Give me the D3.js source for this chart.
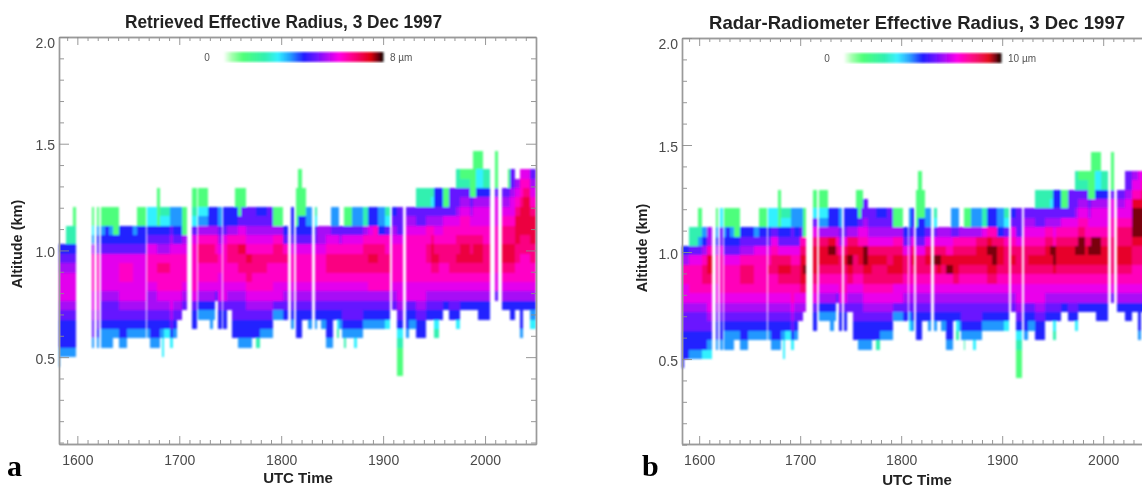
<!DOCTYPE html>
<html>
<head>
<meta charset="utf-8">
<script src="https://cdn.jsdelivr.net/npm/d3@7"></script>
<style>
	html, body { margin: 0; padding: 0; background: #fff; overflow: hidden; }
	svg { display: block; }
	text { font-family: "Liberation Sans", Arial, sans-serif; }
</style>
</head>
<body>
<script>
// Create Constant values
const w = 1142;
const h = 487;

// Altitude gates: lower edge of each gate in km, lowest first
const gateBottoms = [0.412, 0.456, 0.5, 0.544, 0.588, 0.632, 0.676, 0.72, 0.764, 0.808, 0.852, 0.896, 0.94, 0.984,
	1.028, 1.072, 1.116, 1.16, 1.204, 1.248, 1.292, 1.336, 1.38, 1.424];
const gateHeight = 0.044;

// Effective radius (um) of each code used in the columns below (hex digit = index)
const levelsA = [1.04, 2.08, 2.72, 3.36, 4, 4.6, 5.1, 5.55, 6.0, 6.5, 7.0, 7.7];
const levelsB = [1.3, 2.6, 3.4, 4.2, 5, 5.8, 6.4, 7.0, 7.6, 8.3, 8.95, 9.6];

// Columns: [start time, codes per gate from the lowest gate up, "." = no cloud]
const columnsA = [
	[1582, ".3344456777654"], [1583, "..344456777654"], [1589, "..34445677765411"], [1596, "..3444567776541100"],
	[1598.5, ""], [1614.5, "...355677888863200"], [1616, ""], [1619, "...345677888854300"], [1621.5, ""],
	[1623, "...334556777754300"], [1627, "...334556777754400"], [1631, "...334556777754300"],
	[1634.6, "....34556777754000"], [1640.5, "...3445677887544"], [1648.6, "....345677887544"],
	[1654.5, "....345677777543"], [1659, "....34567777754400"], [1667, ""], [1668.5, "....34566788875422"],
	[1671, "...344566788875422"], [1678, "...34456788986540000"], [1681, "....34567889865421"],
	[1683, "..2234567889865421"], [1685, "....24567889865421"], [1691, "...245677888876533"],
	[1694, "....34567888875433"], [1697.6, "......567888875433"], [1702.6, ".......56788876000"],
	[1707.5, ""], [1712.5, ".....445788888752100"], [1717, ""], [1718.5, "......34678899863200"],
	[1728, "......346788998644"], [1730, ".....3346788998644"], [1733, "......346788998644"],
	[1735, "........5788988644"], [1738, ".....4457778876533"], [1741.5, ""], [1743, ".....4457788887544"],
	[1746.6, ".......56788998644"], [1752, "....44556788998644"], [1755, "....4455678899864400"],
	[1757.5, "...3445567899a875000"], [1760.5, "...3445567899a875500"], [1765.5, "...344567899a87655"],
	[1771, "....44567889987655"], [1775, "...144567889987654"], [1779, "....34567889987654"],
	[1786, "....34567888987655"], [1792, "......357788998600"], [1802, "......4567889854"], [1806.7, ""],
	[1809.4, ".....3456788875444"], [1812.3, ""], [1814.3, "....4445678887540000"],
	[1816.6, "....444567888754400000"], [1820.5, "......45678887544000"], [1824, "......456788875433"],
	[1826.4, ".....3456788875433"], [1830, ""], [1832.9, ".....3456788875421"], [1835.2, "......4567888766"],
	[1839.4, ".....34567888766"], [1844.3, "...3444567899876"], [1849, "...344456789987533"],
	[1851, "......456789987533"], [1854.4, "....12456789987533"], [1857, ".....34567899865"],
	[1859.3, "....345567899875"], [1862, "...134556789987500"], [1863.5, "....34556789987500"],
	[1869, "....34556789987533"], [1871, "...234556789987533"], [1874.4, "....34556789987533"],
	[1880.3, ".....3456789998611"], [1885.3, ".....3456889a98744"], [1890, ".....3456889a98844"],
	[1895, ".....3456889998433"], [1901.5, ".....2456889988521"], [1906.8, ""], [1909, ".......56788887654"],
	[1913.4, "000124567788887555"], [1919.5, ""], [1922, "....34457788888765"], [1925.5, ".....3457788888765"],
	[1932, "....4456778888875511"], [1942.3, "......45678899886511"], [1947, "......456789aa986521"],
	[1950, "....12456789a9876544"], [1955, "......45678899876544"], [1958.6, ".......4678899887500"],
	[1965, "......45678999887555"], [1971.7, ".....2456789a998765511"], [1975, ".......46789aa98876510"],
	[1985, ".......46789a998765000"], [1988, ".......46789aa9877600000"], [1991.5, ".......46789aa9877642200"],
	[1993, "......446789aa9877642200"], [1998, "......4467899988776411"], [2005, ""],
	[2009.3, "........5778888877750000"], [2012.6, ""], [2016.5, ".......46789aa998765"],
	[2022.5, ".......46789aa99876500"], [2024, "......446789aa99877655"], [2029, ".......4678899aaa9876"],
	[2034, "....34446788899aaa9887"], [2037, ".......46788899aaaa987"],
	[2044.5, ".....234678899aaa98765"], [2050, ""]
];

const columnsB = [
	[1583, ".4444556778864"], [1584.5, "..444556778864"], [1589.6, "..34455678887511"],
	[1598.7, "..3445567888753100"], [1603, "..24455678998643"], [1607.5, "..234567789aa866"], [1612.5, ""],
	[1617, "...344567788864300"], [1619, ""], [1621, "...344567888875522"], [1623.7, ""],
	[1624.7, "...334567888754300"], [1627, "...334567888754400"], [1631, "...334567888754300"],
	[1634.6, "....34567888754000"], [1640.5, "...3445678998654"], [1648.6, "....345678998654"],
	[1654.5, "....345678888753"], [1659, "....34567888875400"], [1667, ""], [1668.5, "....34567889875422"],
	[1671, "...344567889987522"], [1678, "...34456789a97540000"], [1681, "....3456789a975421"],
	[1683, "..223456789a975421"], [1685, "....2456789a975421"], [1691, "...245678899875533"],
	[1694, "....34567899875433"], [1697.6, "......567899875433"], [1700, "......5679aaa98533"],
	[1702.6, ".......679aba98000"], [1706, ""], [1712.5, ".....445789aaa975200"], [1717, ""],
	[1718.5, "......346789aa963200"], [1728, "......346789aba644"], [1730, ".....3346789aba644"],
	[1733, "......346789aba644"], [1735, "........5789a98644"], [1738, ".....4457889986533"], [1741.5, ""],
	[1743, ".....4457889a97544"], [1746.6, ".......5679aba9644"], [1752, "....445567899a9644"],
	[1755, "....445567899a964400"], [1757.5, "...344556789aa875000"], [1760.5, "...344556789aa875500"],
	[1762, "...34456789abb87655"], [1767, "...34456789aa97655"], [1771, "....44567899a97655"],
	[1775, "...144567899a97654"], [1779, "....34567899a97654"], [1786, "....3456789a997655"],
	[1792, "......35779aa98600"], [1802, "......4567899754"], [1806.7, ""], [1808, ".....2356788875433"],
	[1809.4, ".....3456789a97544"], [1812.3, ""], [1814.3, "....4445678997540000"],
	[1816.6, "....444567899754400000"], [1820.5, "......45678997544000"], [1824, "......456789a97533"],
	[1826.4, ".....3456789a97533"], [1830, ""], [1832.9, ".....3456789b97521"], [1835.2, "......45678ab976"],
	[1839.4, ".....3456789a976"], [1844.3, "...34445678ba876"], [1849, "...34445678ba87533"],
	[1851, "......45679aa98533"], [1854.4, "....1245679aa98533"], [1857, ".....3456789a986"],
	[1859.3, "....34556789a986"], [1862, "...134556789a98600"], [1863.5, "....34556789a98600"],
	[1869, "....34556789a98633"], [1871, "...234556789a98633"], [1874.4, "....34556789aa9633"],
	[1880.3, ".....3456789aa9711"], [1885.3, ".....345679aaba844"], [1890, ".....345679abb9844"],
	[1895, ".....3456789aa9433"], [1901.5, ".....2456789998521"], [1906.8, ""], [1909, ".......56789a98754"],
	[1913.4, "000124567789997555"], [1919.5, ""], [1922, "....34457789998765"], [1925.5, ".....3457789a98765"],
	[1932, "....44567789a9875511"], [1942.3, "......456789aa986511"], [1947, "......456789ab986521"],
	[1950, "....1245678abb876544"], [1953, "......456789aa986544"], [1958.6, ".......46789aa987500"],
	[1965, "......456789aa987555"], [1971.7, ".....2456789ab98765511"], [1975, ".......46789abb9876510"],
	[1982, ".......46789aa98876510"], [1985, ".......46789ab98765000"], [1988, ".......46789abb877600000"],
	[1991.5, ".......46789abb877642200"], [1993, "......446789abb877642200"], [1998, "......446789aa98776411"],
	[2005, ""], [2007.5, "........5789999887750000"], [2010.7, ""], [2014, ".......46789aa998765"],
	[2022, "......446789aa99877655"], [2029, ".......4678899abbba876"], [2034, "....3444678899abbba877"],
	[2037, ".......4678899abbba987"], [2040, ""]
];

// Axis ticks
const timeMajor = [1600, 1700, 1800, 1900, 2000];
const altMajor = [0.5, 1.0, 1.5, 2.0];
const altMinor = [0.1, 0.2, 0.3, 0.4, 0.6, 0.7, 0.8, 0.9, 1.1, 1.2, 1.3, 1.4, 1.6, 1.7, 1.8, 1.9];

// Rainbow of the colour bar, as fraction of its length
const barStops = [0, 0.05, 0.12, 0.26, 0.34, 0.42, 0.5, 0.58, 0.65, 0.72, 0.79, 0.86, 0.92, 0.97, 1];
const barColors = ["#ffffff", "#a8ffb0", "#50ff78", "#30f0b0", "#30f0ff", "#2098ff", "#2020ff", "#6a14ff", "#b408f4",
	"#ff00e8", "#ff0098", "#f00050", "#e00010", "#600008", "#000000"];

const svg = d3.select('body')
	.append('svg')
	.attr('width', w)
	.attr('height', h);

// The source is a soft scan, so everything is slightly blurred
const defs = svg.append('defs');
defs.append('filter').attr('id', 'softHeat')
	.append('feGaussianBlur').attr('stdDeviation', '1.1 0.9');
defs.append('filter').attr('id', 'softText')
	.attr('x', '-5%').attr('y', '-5%').attr('width', '110%').attr('height', '110%')
	.append('feGaussianBlur').attr('stdDeviation', 0.6);

// Build one panel
const drawPanel = (p) => {
	const xScale = d3.scaleLinear().domain(p.timeDomain).range(p.xRange);
	const yScale = d3.scaleLinear().domain(p.altDomain).range(p.yRange);
	const colorScale = d3.scaleLinear()
		.domain(barStops.map((s) => s * p.maxRadius))
		.range(barColors);

	// Expand the columns to one cell per gate
	const cells = [];
	p.columns.forEach((col, i) => {
		if (i === p.columns.length - 1) return;
		col[1].split('').forEach((code, g) => {
			if (code === '.') return;
			cells.push({ t0: col[0], t1: p.columns[i + 1][0], alt: gateBottoms[g], r: p.levels[parseInt(code, 16)] });
		});
	});

	const heat = svg.append('g').attr('filter', 'url(#softHeat)');
	heat.selectAll('rect')
		.data(cells)
		.enter()
		.append('rect')
		.attr('x', (d) => xScale(d.t0))
		.attr('width', (d) => xScale(d.t1) - xScale(d.t0))
		.attr('y', (d) => yScale(d.alt + gateHeight))
		.attr('height', (d) => yScale(d.alt) - yScale(d.alt + gateHeight))
		.attr('shape-rendering', 'crispEdges')
		.attr('fill', (d) => colorScale(d.r));

	// Colour bar
	const barScale = d3.scaleLinear().domain([0, p.maxRadius]).range(p.barX);
	const barG = svg.append('g').attr('filter', 'url(#softHeat)');
	barG.selectAll('rect')
		.data(d3.range(0, p.maxRadius, p.maxRadius / 160))
		.enter()
		.append('rect')
		.attr('x', (d) => barScale(d))
		.attr('y', p.barY)
		.attr('width', barScale(p.maxRadius / 160) - barScale(0) + 0.5)
		.attr('height', 10)
		.attr('fill', (d) => colorScale(d));

	const chrome = svg.append('g').attr('filter', 'url(#softText)');

	// Declare the Axis, tickLen is how far the ticks go into the plot
	const timeMinor = d3.range(p.firstMinor, p.timeDomain[1], 10).filter((t) => t % 100 !== 0);
	const addAxis = (axis, offset, major, minor, majorLen, minorLen) => {
		const g = chrome.append('g').attr('transform', offset);
		g.call(axis.tickValues(minor).tickSizeInner(-minorLen).tickSizeOuter(0).tickFormat(''));
		const gMajor = chrome.append('g').attr('transform', offset);
		gMajor.call(axis.tickValues(major).tickSizeInner(-majorLen).tickSizeOuter(0).tickFormat(''));
		[g, gMajor].forEach((s) => {
			s.selectAll('path').attr('stroke', '#9a9a9a').attr('stroke-width', 1.4);
			s.selectAll('line').attr('stroke', '#8c8c8c').attr('stroke-width', 0.9);
		});
		return gMajor;
	};

	const bottom = addAxis(d3.axisBottom(xScale), `translate(0,${p.yRange[0]})`, timeMajor, timeMinor, 8, 4);
	bottom.selectAll('.tick').append('text')
		.text((d) => d)
		.attr('y', 16)
		.attr('text-anchor', 'middle')
		.attr('dy', '0.36em')
		.attr('font-size', 14)
		.attr('fill', '#4a4a4a');
	addAxis(d3.axisTop(xScale), `translate(0,${p.yRange[1]})`, timeMajor, timeMinor, 8, 4);

	const left = addAxis(d3.axisLeft(yScale), `translate(${p.xRange[0]},0)`, altMajor, altMinor, 10, 5);
	left.selectAll('.tick').append('text')
		.text((d) => d3.format('.1f')(d))
		.attr('x', -4)
		.attr('y', (d) => (d === 2 ? 5 : 1))
		.attr('dy', '0.36em')
		.attr('text-anchor', 'end')
		.attr('font-size', 14)
		.attr('fill', '#4a4a4a');
	if (p.xRange[1] < w) addAxis(d3.axisRight(yScale), `translate(${p.xRange[1]},0)`, altMajor, altMinor, 10, 5);

	// Titles and labels
	chrome.append('text')
		.attr('x', p.titleX).attr('y', p.titleY)
		.attr('textLength', p.titleLen).attr('lengthAdjust', 'spacingAndGlyphs')
		.attr('font-size', 18.5).attr('font-weight', 'bold').attr('fill', '#222')
		.text(p.title);
	chrome.append('text')
		.attr('x', p.timeLabelX).attr('y', p.timeLabelY)
		.attr('text-anchor', 'middle')
		.attr('font-size', 15).attr('font-weight', 'bold').attr('fill', '#222')
		.text('UTC Time');
	chrome.append('text')
		.attr('transform', `translate(${p.altLabelX},${p.altLabelY}) rotate(-90)`)
		.attr('text-anchor', 'middle')
		.attr('font-size', 14.5).attr('font-weight', 'bold').attr('fill', '#222')
		.text('Altitude (km)');
	chrome.append('text')
		.attr('x', p.barX[0] - 16).attr('y', p.barY + 9)
		.attr('text-anchor', 'middle')
		.attr('font-size', 10).attr('fill', '#555')
		.text('0');
	chrome.append('text')
		.attr('x', p.barX[1] + 7).attr('y', p.barY + 9)
		.attr('font-size', 10).attr('fill', '#555')
		.text(p.maxRadius + ' \u00b5m');
	svg.append('text')
		.attr('x', p.letterX).attr('y', 476)
		.attr('font-size', 30).attr('font-weight', 'bold')
		.style('font-family', '"Liberation Serif"')
		.attr('fill', '#000')
		.text(p.letter);
};

drawPanel({
	columns: columnsA, levels: levelsA, maxRadius: 8,
	timeDomain: [1582, 2050], xRange: [59, 536], firstMinor: 1590,
	altDomain: [0.093, 2], yRange: [444, 37],
	barX: [223, 383], barY: 52,
	title: 'Retrieved Effective Radius, 3 Dec 1997', titleX: 125, titleY: 28, titleLen: 317,
	timeLabelX: 298, timeLabelY: 483, altLabelX: 22, altLabelY: 244,
	letter: 'a', letterX: 7
});

drawPanel({
	columns: columnsB, levels: levelsB, maxRadius: 10,
	timeDomain: [1583, 2050], xRange: [682, 1153.7], firstMinor: 1590,
	altDomain: [0.103, 2], yRange: [444, 38],
	barX: [843, 1001], barY: 53,
	title: 'Radar-Radiometer Effective Radius, 3 Dec 1997', titleX: 709, titleY: 29, titleLen: 416,
	timeLabelX: 917, timeLabelY: 485, altLabelX: 647, altLabelY: 248,
	letter: 'b', letterX: 642
});
</script>
</body>
</html>
